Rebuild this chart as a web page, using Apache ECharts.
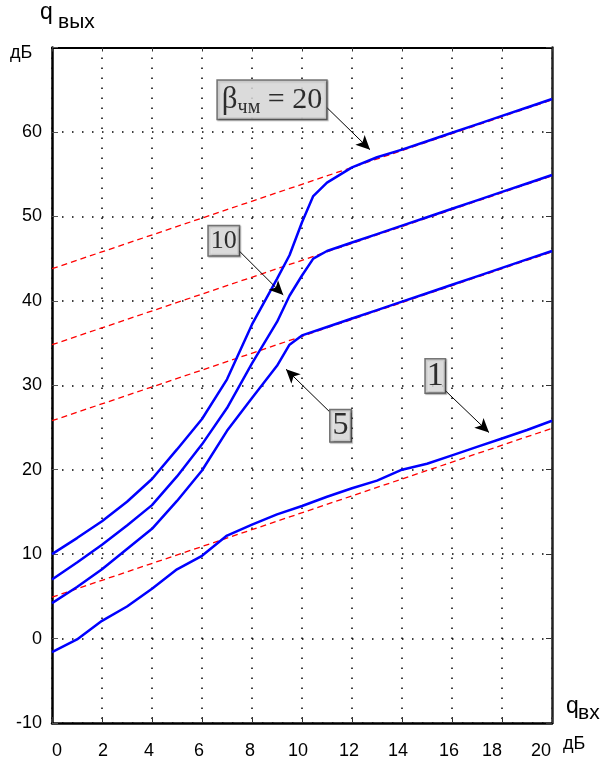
<!DOCTYPE html>
<html>
<head>
<meta charset="utf-8">
<script src="https://cdn.jsdelivr.net/npm/echarts@6/dist/echarts.min.js"></script>
<style>html,body{margin:0;padding:0;background:#fff}#c{width:610px;height:761px}</style>
</head>
<body>
<div id="c"></div>
<script>
// ---- data ----
const xTicks = [0, 2, 4, 6, 8, 10, 12, 14, 16, 18, 20];
const yTicks = [-10, 0, 10, 20, 30, 40, 50, 60];

const x1  = [0, 1, 2, 3, 4, 5, 6, 7, 8, 9, 10, 11, 12, 13, 14, 15, 16, 17, 18, 19, 20];
const q1  = [-1.6, -0.1, 2.1, 3.8, 5.9, 8.2, 9.8, 12.2, 13.5, 14.7, 15.7, 16.8, 17.8, 18.7, 20.0, 20.7, 21.7, 22.7, 23.7, 24.7, 25.8];

const x5  = [0, 1, 2, 3, 4, 5, 6, 7, 8, 9, 9.5, 10, 11, 12, 13, 14, 15, 16, 17, 18, 19, 20];
const q5  = [4.2, 6.1, 8.2, 10.6, 13.0, 16.3, 19.9, 24.6, 28.5, 32.3, 34.8, 35.9, 36.9, 37.9, 38.9, 39.9, 40.9, 41.9, 42.9, 43.9, 44.9, 45.9];

const x10 = [0, 1, 2, 3, 4, 5, 6, 7, 8, 9, 9.5, 10, 10.45, 11, 12, 13, 14, 15, 16, 17, 18, 19, 20];
const q10 = [7.0, 9.0, 11.1, 13.4, 15.8, 19.2, 23.0, 27.3, 32.6, 37.5, 40.6, 43.0, 45.0, 45.9, 46.9, 47.9, 48.9, 49.9, 50.9, 51.9, 52.9, 53.9, 54.9];

const x20 = [0, 1, 2, 3, 4, 5, 6, 7, 8, 9, 9.5, 10, 10.45, 11, 12, 13, 14, 15, 16, 17, 18, 19, 20];
const q20 = [10.0, 11.9, 13.9, 16.2, 18.9, 22.4, 26.0, 30.7, 37.2, 42.6, 45.4, 49.3, 52.4, 54.0, 55.8, 57.0, 57.9, 58.9, 59.9, 60.9, 61.9, 62.9, 63.9];

// asymptotes (red dashed): endpoints at x=0 and x=20
const asymX  = [0, 20];
const asym1  = [4.9, 24.9];
const asym5  = [25.8, 45.8];
const asym10 = [34.8, 54.8];
const asym20 = [43.8, 63.8];

// annotations: label, label position, arrow start, arrow end
const annLabels = ['β', '10', '5', '1'];
const annPos    = [[8.8, 63.8], [6.87, 47.1], [11.54, 25.2], [15.33, 31.1]];
const arrFrom   = [[10.99, 62.9], [7.49, 45.9], [11.09, 26.9], [15.72, 29.4]];
const arrTo     = [[12.72, 57.9], [9.25, 40.7], [9.36, 31.9], [17.48, 24.4]];

// ---- chart ----
const zip = (xs, ys) => xs.map((x, i) => [x, ys[i]]);
const chart = echarts.init(document.getElementById('c'), null, {renderer: 'canvas'});

const SANS = 'Liberation Sans, Arial, sans-serif';
const SERIF = 'Liberation Serif, Times New Roman, serif';
const dotted = {color: '#000', width: 1.5, type: [1.5, 8.5]};

function redLine(ys) {
  return {type: 'line', data: zip(asymX, ys), symbol: 'none', z: 3,
    lineStyle: {color: '#ff0000', width: 1.3, type: [6, 4]}, animation: false};
}
function blueLine(xs, ys) {
  return {type: 'line', data: zip(xs, ys), symbol: 'none', z: 4,
    lineStyle: {color: '#0000ff', width: 2.5}, animation: false};
}

const boxStyle = {
  backgroundColor: '#e4e4e4', borderColor: '#555', borderWidth: 1.5,
  color: '#000', fontFamily: SERIF,
  shadowColor: 'rgba(0,0,0,0.35)', shadowOffsetX: 1, shadowOffsetY: 1, shadowBlur: 1
};

const annData = [
  {value: annPos[0], label: Object.assign({}, boxStyle, {
    formatter: '{b|β}{s|чм}{n| = 20}', padding: [0, 4, 0, 4],
    rich: {
      b: {fontSize: 31, fontFamily: SERIF, color: '#000', lineHeight: 38},
      s: {fontSize: 20, fontFamily: SERIF, color: '#000', padding: [16, 0, 0, 0], lineHeight: 20},
      n: {fontSize: 30, fontFamily: SERIF, color: '#000', lineHeight: 38}
    }})},
  {value: annPos[1], label: Object.assign({}, boxStyle, {formatter: annLabels[1], fontSize: 26, padding: [1, 2, 0, 2], lineHeight: 28})},
  {value: annPos[2], label: Object.assign({}, boxStyle, {formatter: annLabels[2], fontSize: 32, padding: [0, 2, 0, 2], lineHeight: 31})},
  {value: annPos[3], label: Object.assign({}, boxStyle, {formatter: annLabels[3], fontSize: 34, padding: [0, 1, 0, 1], lineHeight: 33})}
];

// per-label horizontal nudges of the x tick labels (px, + = right)
const xLabelShift = {0: 5, 2: 1, 4: -3, 6: -3, 8: -2, 10: -4, 12: -3, 14: -4, 16: -3, 18: -10, 20: -11};
const xRich = {};
Object.keys(xLabelShift).forEach(k => {
  const s = xLabelShift[k];
  xRich['t' + k] = {fontSize: 18, fontFamily: SANS, color: '#000',
    padding: s >= 0 ? [0, 0, 0, 2 * s] : [0, -2 * s, 0, 0]};
});

const option = {
  backgroundColor: '#fff',
  animation: false,
  grid: {left: 52, top: 47.5, right: 58, bottom: 38, containLabel: false},
  xAxis: [{
    type: 'value', min: 0, max: 20, interval: 2, position: 'bottom',
    axisLine: {show: true, onZero: false, lineStyle: {color: '#000', width: 2.5}},
    axisTick: {show: true, inside: true, length: 6, lineStyle: {color: '#333', width: 1}},
    axisLabel: {show: true, margin: 19, color: '#000', fontSize: 18, fontFamily: SANS,
      formatter: v => xTicks.includes(v) ? '{t' + v + '|' + v + '}' : '', rich: xRich},
    splitLine: {show: true, lineStyle: dotted}
  }, {
    type: 'value', min: 0, max: 20, interval: 2, position: 'top',
    axisLine: {show: true, onZero: false, lineStyle: {color: '#000', width: 2}},
    axisTick: {show: true, inside: true, length: 4, lineStyle: {color: '#333', width: 1}},
    axisLabel: {show: false}, splitLine: {show: false}
  }],
  yAxis: [{
    type: 'value', min: -10, max: 70, interval: 10, position: 'left',
    axisLine: {show: true, onZero: false, lineStyle: {color: '#000', width: 2.5}},
    axisTick: {show: true, inside: true, length: 6, lineStyle: {color: '#555', width: 1}},
    axisLabel: {show: true, margin: 10, color: '#000', fontSize: 18, fontFamily: SANS,
      formatter: v => yTicks.includes(v) ? String(v) : ''},
    splitLine: {show: true, lineStyle: dotted}
  }, {
    type: 'value', min: -10, max: 70, interval: 10, position: 'right',
    axisLine: {show: true, onZero: false, lineStyle: {color: '#222', width: 2.5}},
    axisTick: {show: true, inside: true, length: 6, lineStyle: {color: '#333', width: 1}},
    axisLabel: {show: false}, splitLine: {show: false}
  }],
  series: [
    redLine(asym1), redLine(asym5), redLine(asym10), redLine(asym20),
    blueLine(x1, q1), blueLine(x5, q5), blueLine(x10, q10), blueLine(x20, q20),
    {
      type: 'scatter', data: annData, symbolSize: 1, z: 10,
      itemStyle: {color: 'rgba(0,0,0,0)'},
      label: {show: true, position: 'inside'},
      labelLayout: {hideOverlap: false},
      silent: true, animation: false,
      markLine: {
        silent: true, animation: false, symbol: ['none', 'arrow'], symbolSize: [10, 14],
        lineStyle: {color: '#000', width: 1, type: 'solid'},
        label: {show: false},
        data: arrFrom.map((f, i) => [{coord: f}, {coord: arrTo[i]}])
      }
    }
  ],
  graphic: [
    {type: 'text', left: 40, top: 1, style: {text: 'q', font: '23px ' + SANS, fill: '#000'}},
    {type: 'text', left: 58, top: 12, style: {text: 'вых', font: '21px ' + SANS, fill: '#000'}},
    {type: 'text', left: 10, top: 44, style: {text: 'дБ', font: '18px ' + SANS, fill: '#000'}},
    {type: 'text', left: 566, top: 695, style: {text: 'q', font: '23px ' + SANS, fill: '#000'}},
    {type: 'text', left: 578, top: 703, style: {text: 'вх', font: '21px ' + SANS, fill: '#000'}},
    {type: 'text', left: 563, top: 735, style: {text: 'дБ', font: '18px ' + SANS, fill: '#000'}}
  ]
};
chart.setOption(option);
</script>
</body>
</html>
